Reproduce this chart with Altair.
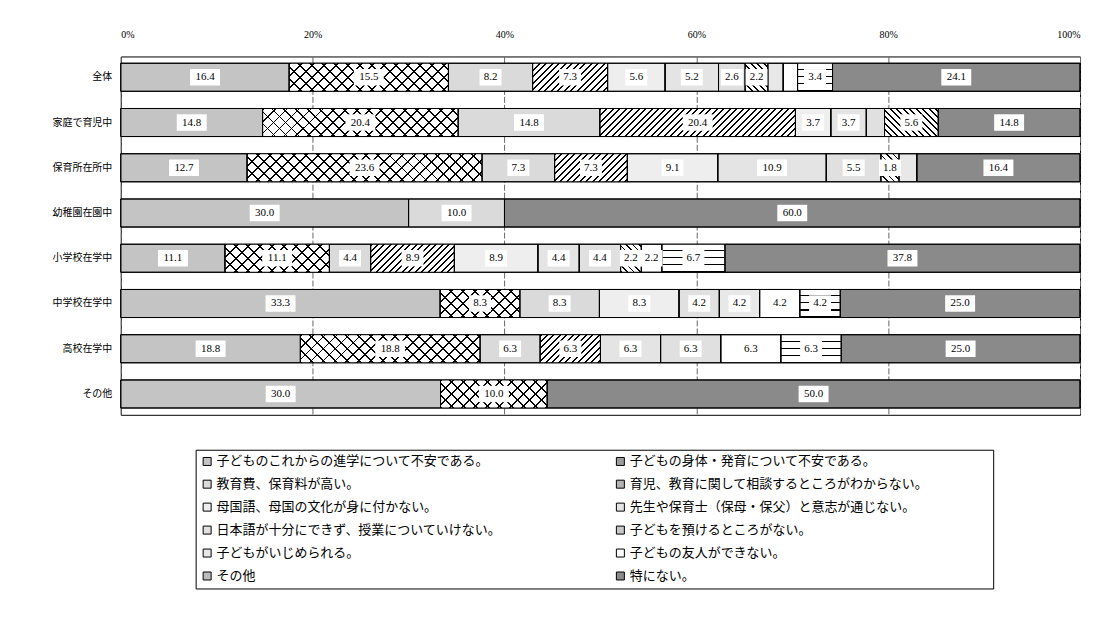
import math
import altair as alt
import pandas as pd

groups = ["全体", "家庭で育児中", "保育所在所中", "幼稚園在園中",
          "小学校在学中", "中学校在学中", "高校在学中", "その他"]

cats = [
    "子どものこれからの進学について不安である。",
    "子どもの身体・発育について不安である。",
    "教育費、保育料が高い。",
    "育児、教育に関して相談するところがわからない。",
    "母国語、母国の文化が身に付かない。",
    "先生や保育士（保母・保父）と意志が通じない。",
    "日本語が十分にできず、授業についていけない。",
    "子どもを預けるところがない。",
    "子どもがいじめられる。",
    "子どもの友人ができない。",
    "その他",
    "特にない。",
]

# values per category, in the order of `groups`
c1 = [16.4, 14.8, 12.7, 30.0, 11.1, 33.3, 18.8, 30.0]
c2 = [15.5, 20.4, 23.6, 0.0, 11.1, 8.3, 18.8, 10.0]
c3 = [8.2, 14.8, 7.3, 10.0, 4.4, 8.3, 6.3, 0.0]
c4 = [7.3, 20.4, 7.3, 0.0, 8.9, 0.0, 6.3, 0.0]
c5 = [5.6, 3.7, 9.1, 0.0, 8.9, 8.3, 0.0, 0.0]
c6 = [5.2, 3.7, 10.9, 0.0, 4.4, 0.0, 6.3, 0.0]
c7 = [2.6, 1.9, 5.5, 0.0, 4.4, 4.2, 6.3, 0.0]
c8 = [2.2, 5.6, 1.8, 0.0, 2.2, 0.0, 0.0, 0.0]
c9 = [1.5, 0.0, 1.8, 0.0, 0.0, 4.2, 0.0, 0.0]
c10 = [1.4, 0.0, 0.0, 0.0, 2.2, 4.2, 6.3, 0.0]
c11 = [3.4, 0.0, 0.0, 0.0, 6.7, 4.2, 6.3, 0.0]
c12 = [24.1, 14.8, 16.4, 60.0, 37.8, 25.0, 25.0, 50.0]
series = [c1, c2, c3, c4, c5, c6, c7, c8, c9, c10, c11, c12]

# segments whose value label is not printed in the original
hidden = [("全体", 8), ("全体", 9), ("家庭で育児中", 6), ("保育所在所中", 8)]

grays = ["#c4c4c4", "#9c9c9c", "#dadada", "#b2b2b2", "#eeeeee", "#e4e4e4",
         "#e0e0e0", "#c6c6c6", "#e8e8e8", "#ffffff", "#bcbcbc", "#8a8a8a"]

rows = []
for gi, g in enumerate(groups):
    for ci, c in enumerate(cats):
        rows.append({"group": g, "category": c, "order": ci,
                     "value": series[ci][gi],
                     "show": 0 if (g, ci) in hidden else 1})
df = pd.DataFrame(rows)

PW, PH = 961, 359
PI, PO = 0.38, 0.15
BAR = PH / (len(groups) - PI + 2 * PO) * (1 - PI)


def stops_expr(frac, line, gap, n, gap_first=False):
    st = []
    for i in range(n):
        a, b, c = i / n, (i + frac) / n, (i + 1) / n
        if gap_first:
            m = (i + 1 - frac) / n
            st += [(a, gap), (m, gap), (m, line), (c, line)]
        else:
            st += [(a, line), (b, line), (b, gap), (c, gap)]
    return "[" + ",".join("{'offset':%.5f,'color':'%s'}" % s for s in st) + "]"


def diag_expr(P, frac, line, gap, back=False):
    n = int(math.ceil(420 / P))
    L = n * P
    a = f"({L}/(datum.w/{BAR:.3f}+{BAR:.3f}/datum.w))"
    if back:
        coords = f"'x1':0,'y1':1,'x2':{a}/{BAR:.3f},'y2':1-{a}/datum.w"
    else:
        coords = f"'x1':0,'y1':0,'x2':{a}/{BAR:.3f},'y2':{a}/datum.w"
    return "{'gradient':'linear'," + coords + ",'stops':" + stops_expr(frac, line, gap, n) + "}"


def wave_expr(n, frac, line, gap):
    return ("{'gradient':'linear','x1':0,'y1':0,'x2':0.0001,'y2':1,'stops':"
            + stops_expr(frac, line, gap, n, gap_first=True) + "}")


CLEAR = "rgba(0,0,0,0)"

base = (
    alt.Chart(df)
    .transform_filter("datum.value > 0")
    .transform_stack(stack="value", groupby=["group"], as_=["x0", "x1"],
                     offset="normalize", sort=[alt.SortField("order")])
    .transform_calculate(mid="(datum.x0 + datum.x1) / 2",
                         w=f"(datum.x1 - datum.x0) * {PW}",
                         label="format(datum.value, '.1f')")
)

x_axis = alt.Axis(orient="top", format=".0%", values=[0, 0.2, 0.4, 0.6, 0.8, 1.0],
                  grid=True, gridColor="#666666", gridDash=[6, 2], gridWidth=1,
                  domain=False, ticks=False, labelPadding=17, labelFontSize=10,
                  labelFont="Liberation Serif", labelColor="black", title=None)
x_scale = alt.Scale(domain=[0, 1], nice=False)
y_enc = alt.Y("group:N", sort=groups,
              scale=alt.Scale(domain=groups, paddingInner=PI, paddingOuter=PO),
              axis=alt.Axis(title=None, ticks=False, domain=False, labelPadding=9,
                            labelFontSize=10, labelColor="black",
                            labelFont="Noto Sans CJK JP"))


def xq(field):
    return alt.X(f"{field}:Q", scale=x_scale, axis=x_axis)


# legend entries listed so that the two columns read row by row
legend_values = cats[0::2] + cats[1::2]

bars = base.mark_bar(stroke="black", strokeWidth=1).encode(
    x=xq("x0"), x2="x1:Q", y=y_enc,
    color=alt.Color("category:N", sort=cats,
                    scale=alt.Scale(domain=cats, range=grays),
                    legend=alt.Legend(title="\u3000", titleOrient="right",
                                      titlePadding=60, titleFontSize=4,
                                      values=legend_values)),
    order=alt.Order("order:Q"),
)


def hatch(cat_idx, expr):
    return (base.transform_filter(alt.datum.category == cats[cat_idx])
            .transform_calculate(grad=expr)
            .mark_bar(strokeWidth=0)
            .encode(x=xq("x0"), x2="x1:Q", y=y_enc,
                    fill=alt.Fill("grad:N", scale=None)))


cross_a = hatch(1, diag_expr(12, 0.16, "#000000", "#ffffff"))
cross_b = hatch(1, diag_expr(12, 0.16, "#000000", CLEAR, back=True))
slash = hatch(3, diag_expr(6.5, 0.32, "#000000", "#ffffff"))
backs = hatch(7, diag_expr(6.5, 0.26, "#000000", "#ffffff", back=True))
wave = hatch(10, wave_expr(4, 0.17, "#000000", "#ffffff"))

outline = base.mark_bar(fillOpacity=0, stroke="black", strokeWidth=1).encode(
    x=xq("x0"), x2="x1:Q", y=y_enc)

lab = base.transform_filter("datum.show == 1")
box4 = lab.transform_filter("length(datum.label) >= 4").mark_point(
    shape="M-1,-0.55H1V0.55H-1Z", filled=True, color="white", opacity=1, size=30 * 30
).encode(x=xq("mid"), y=y_enc)
box3 = lab.transform_filter("length(datum.label) < 4").mark_point(
    shape="M-1,-0.75H1V0.75H-1Z", filled=True, color="white", opacity=1, size=22 * 22
).encode(x=xq("mid"), y=y_enc)
texts = lab.mark_text(font="Liberation Serif", fontSize=11, color="black").encode(
    x=xq("mid"), y=y_enc, text="label:N")

chart = (
    alt.layer(bars, cross_a, cross_b, slash, backs, wave, outline, box4, box3, texts)
    .properties(width=PW, height=PH,
                padding={"left": 113, "top": 48, "right": 15, "bottom": 190},
                autosize=alt.AutoSizeParams(type="none"))
    .configure(font="Noto Sans CJK JP")
    .configure_view(stroke="black", strokeWidth=1)
    .configure_legend(orient="none", legendX=75, legendY=394, columns=2,
                      columnPadding=112, rowPadding=9, padding=5,
                      strokeColor="black", fillColor="white",
                      symbolType="square", symbolSize=64,
                      symbolStrokeColor="black", symbolStrokeWidth=1,
                      labelFontSize=13, labelColor="black", labelLimit=700,
                      labelOffset=3, labelFont="Noto Sans CJK JP")
)

chart.save("out.html", embed_options={"renderer": "svg", "actions": False})
